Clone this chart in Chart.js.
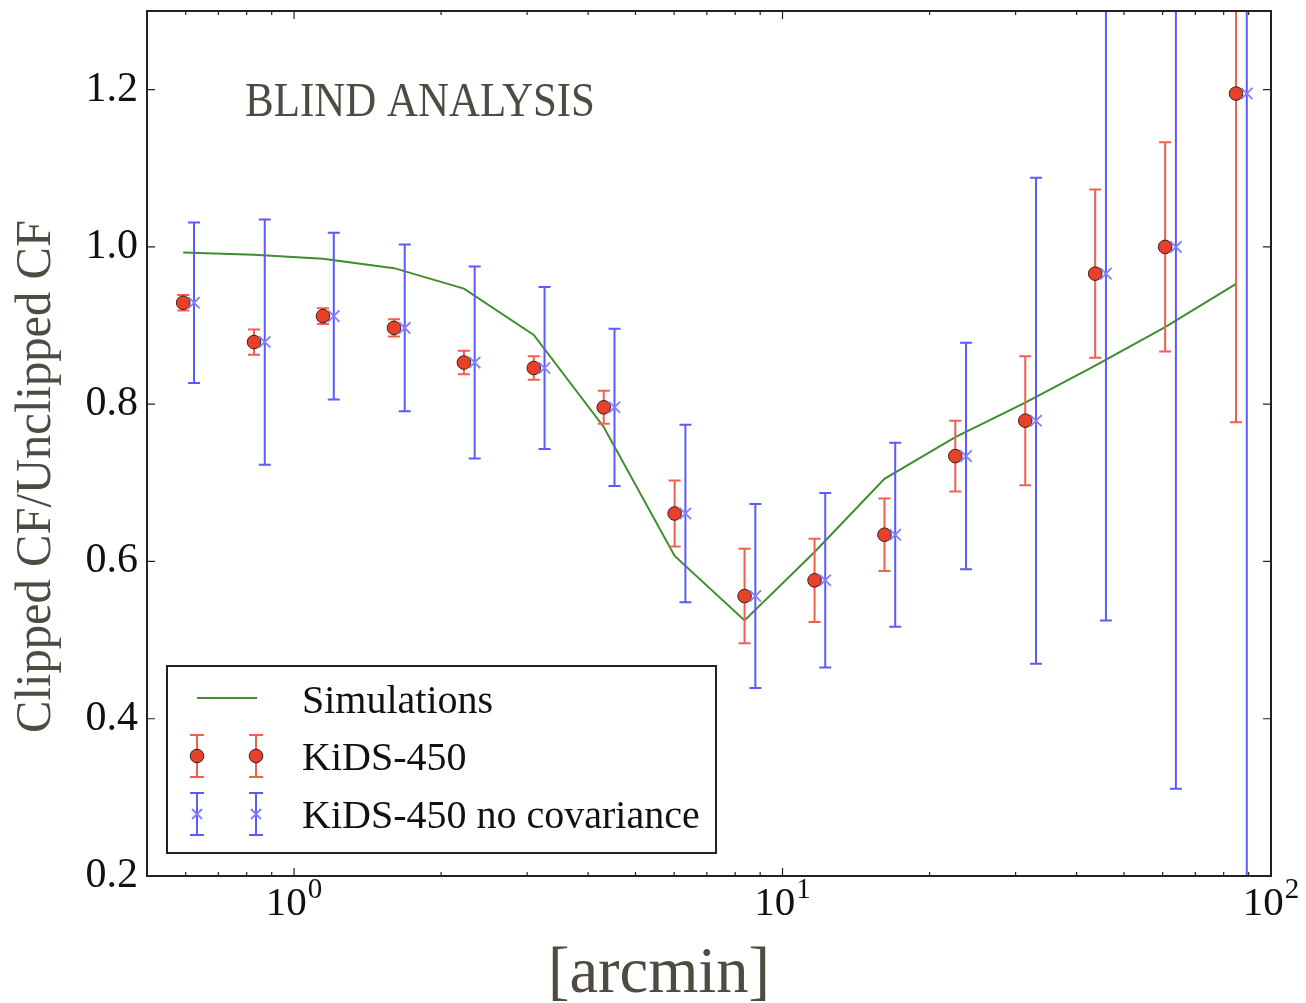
<!DOCTYPE html>
<html>
<head>
<meta charset="utf-8">
<script src="https://cdn.jsdelivr.net/npm/chart.js@4.4.0/dist/chart.umd.min.js"></script>
<style>
  html, body { margin: 0; padding: 0; background: #ffffff; }
  #wrap { width: 1306px; height: 1003px; }
</style>
</head>
<body>
<div id="wrap"><canvas id="chart" width="1306" height="1003"></canvas></div>
<script>
// Angular scale of each bin, in arcmin
const kidsTheta  = [0.593, 0.828, 1.146, 1.602, 2.227, 3.096, 4.305, 6.014, 8.362, 11.63, 16.17, 22.58, 31.40, 43.66, 60.71, 84.80];
const noCovTheta = [0.624, 0.871, 1.206, 1.685, 2.343, 3.257, 4.529, 6.327, 8.797, 12.23, 17.01, 23.75, 33.03, 45.93, 63.87, 89.21];
const simTheta   = [0.593, 0.828, 1.146, 1.602, 2.227, 3.096, 4.305, 6.014, 8.362, 11.63, 16.17, 22.58, 31.40, 43.66, 60.71, 84.80];

// Clipped / unclipped correlation function ratio
const simRatio   = [0.993, 0.990, 0.985, 0.973, 0.947, 0.888, 0.771, 0.607, 0.525, 0.612, 0.705, 0.758, 0.802, 0.849, 0.898, 0.953];
const kidsRatio  = [0.929, 0.879, 0.912, 0.897, 0.853, 0.846, 0.796, 0.661, 0.556, 0.576, 0.634, 0.734, 0.779, 0.966, 1.000, 1.195];
const kidsErr    = [0.010, 0.016, 0.010, 0.011, 0.015, 0.015, 0.021, 0.042, 0.060, 0.053, 0.046, 0.045, 0.082, 0.107, 0.133, 0.418];
const noCovRatio = [0.929, 0.879, 0.912, 0.897, 0.853, 0.846, 0.796, 0.661, 0.556, 0.576, 0.634, 0.734, 0.779, 0.966, 1.000, 1.195];
const noCovErr   = [0.102, 0.156, 0.106, 0.106, 0.122, 0.103, 0.100, 0.113, 0.117, 0.111, 0.117, 0.144, 0.309, 0.441, 0.689, 1.050];

// Axis ticks
const xTickValues    = [1, 10, 100];
const xTickBases     = ['10', '10', '10'];
const xTickExponents = ['0', '1', '2'];
const yTickValues    = [0.2, 0.4, 0.6, 0.8, 1.0, 1.2];

// Text
const seriesNames = ['Simulations', 'KiDS-450', 'KiDS-450 no covariance'];
const panelNote = 'BLIND ANALYSIS';
const xTitle = '[arcmin]';
const yTitle = 'Clipped CF/Unclipped CF';

const SERIF = '"Liberation Serif", "DejaVu Serif", serif';
const TITLE_COLOR = '#4f4a42';
const GREEN = '#3f8d2f';
const RED_FILL = '#e8412b';
const RED_EDGE = '#3c1c14';
const RED_BAR = '#f0604e';
const BLUE_BAR = '#5a5aff';
const BLUE_MARK = '#7f7fff';

function drawCross(ctx, x, y, r, color) {
  ctx.save();
  ctx.strokeStyle = color;
  ctx.lineWidth = 1.8;
  ctx.beginPath();
  ctx.moveTo(x - r, y - r); ctx.lineTo(x + r, y + r);
  ctx.moveTo(x - r, y + r); ctx.lineTo(x + r, y - r);
  ctx.stroke();
  ctx.restore();
}

function drawBar(ctx, x, yLo, yHi, color, cap) {
  ctx.strokeStyle = color;
  ctx.lineWidth = 2;
  ctx.beginPath();
  ctx.moveTo(x, yLo); ctx.lineTo(x, yHi);
  ctx.moveTo(x - cap, yLo); ctx.lineTo(x + cap, yLo);
  ctx.moveTo(x - cap, yHi); ctx.lineTo(x + cap, yHi);
  ctx.stroke();
}

// Error bars, drawn just after the simulation curve so markers sit on top
const errorBarPlugin = {
  id: 'errorBars',
  afterDatasetDraw(chart, args) {
    if (chart.data.datasets[args.index].label !== seriesNames[0]) return;
    const { ctx, chartArea: a, scales: { x, y } } = chart;
    ctx.save();
    ctx.beginPath();
    ctx.rect(a.left, a.top, a.right - a.left, a.bottom - a.top);
    ctx.clip();
    kidsTheta.forEach((t, i) => {
      drawBar(ctx, x.getPixelForValue(t),
        y.getPixelForValue(kidsRatio[i] - kidsErr[i]),
        y.getPixelForValue(kidsRatio[i] + kidsErr[i]), RED_BAR, 6);
    });
    noCovTheta.forEach((t, i) => {
      drawBar(ctx, x.getPixelForValue(t),
        y.getPixelForValue(noCovRatio[i] - noCovErr[i]),
        y.getPixelForValue(noCovRatio[i] + noCovErr[i]), BLUE_BAR, 6);
    });
    ctx.restore();
  }
};

// Frame, inward ticks, x tick labels, titles, note and legend
const decorPlugin = {
  id: 'decor',
  afterDraw(chart) {
    const { ctx, chartArea: a, scales: { x, y } } = chart;
    ctx.save();

    // inward tick marks on all four sides
    ctx.strokeStyle = '#222222';
    ctx.lineWidth = 1.2;
    ctx.beginPath();
    for (let d = -1; d <= 2; d++) {
      for (let m = 1; m <= 9; m++) {
        const v = m * Math.pow(10, d);
        if (v < x.min || v > x.max) continue;
        const px = x.getPixelForValue(v);
        const len = m === 1 ? 8 : 4;
        ctx.moveTo(px, a.bottom); ctx.lineTo(px, a.bottom - len);
        ctx.moveTo(px, a.top); ctx.lineTo(px, a.top + len);
      }
    }
    yTickValues.forEach(v => {
      const py = y.getPixelForValue(v);
      ctx.moveTo(a.left, py); ctx.lineTo(a.left + 8, py);
      ctx.moveTo(a.right, py); ctx.lineTo(a.right - 8, py);
    });
    ctx.stroke();

    // frame
    ctx.lineWidth = 2;
    ctx.strokeStyle = '#222222';
    ctx.strokeRect(a.left, a.top, a.right - a.left, a.bottom - a.top);

    // x tick labels as powers of ten
    ctx.fillStyle = '#111111';
    ctx.textBaseline = 'alphabetic';
    ctx.textAlign = 'left';
    xTickValues.forEach((v, i) => {
      const px = x.getPixelForValue(v);
      ctx.font = '41px ' + SERIF;
      const wb = ctx.measureText(xTickBases[i]).width;
      ctx.font = '29px ' + SERIF;
      const we = ctx.measureText(xTickExponents[i]).width;
      const start = px - (wb + we + 1) / 2;
      ctx.font = '41px ' + SERIF;
      ctx.fillText(xTickBases[i], start, 915);
      ctx.font = '29px ' + SERIF;
      ctx.fillText(xTickExponents[i], start + wb + 1, 898);
    });

    // panel note
    ctx.fillStyle = TITLE_COLOR;
    ctx.font = '49px ' + SERIF;
    let w = ctx.measureText(panelNote).width;
    ctx.save();
    ctx.translate(245, 116);
    ctx.scale(350 / w, 1);
    ctx.fillText(panelNote, 0, 0);
    ctx.restore();

    // x title
    ctx.font = '66px ' + SERIF;
    w = ctx.measureText(xTitle).width;
    ctx.save();
    ctx.translate(548, 992);
    ctx.scale(222 / w, 1);
    ctx.fillText(xTitle, 0, 0);
    ctx.restore();

    // y title
    ctx.font = '50px ' + SERIF;
    w = ctx.measureText(yTitle).width;
    ctx.save();
    ctx.translate(50, 733);
    ctx.rotate(-Math.PI / 2);
    ctx.scale(513 / w, 1);
    ctx.fillText(yTitle, 0, 0);
    ctx.restore();

    // legend
    const lx = 167, ly = 666, lw = 549, lh = 187;
    ctx.fillStyle = '#ffffff';
    ctx.fillRect(lx, ly, lw, lh);
    ctx.lineWidth = 2;
    ctx.strokeStyle = '#222222';
    ctx.strokeRect(lx, ly, lw, lh);

    ctx.strokeStyle = GREEN;
    ctx.lineWidth = 2;
    ctx.beginPath();
    ctx.moveTo(197, 698); ctx.lineTo(257, 698);
    ctx.stroke();

    [197, 256].forEach(px => {
      drawBar(ctx, px, 735, 777, RED_BAR, 7);
      ctx.beginPath();
      ctx.arc(px, 756, 6.8, 0, Math.PI * 2);
      ctx.fillStyle = RED_FILL;
      ctx.fill();
      ctx.lineWidth = 1;
      ctx.strokeStyle = RED_EDGE;
      ctx.stroke();
      drawBar(ctx, px, 793, 835, BLUE_BAR, 7);
      drawCross(ctx, px, 814, 5, BLUE_MARK);
    });

    ctx.fillStyle = '#111111';
    ctx.font = '40px ' + SERIF;
    ctx.fillText(seriesNames[0], 302, 713);
    ctx.fillText(seriesNames[1], 302, 770);
    ctx.fillText(seriesNames[2], 302, 828);

    ctx.restore();
  }
};

const toPoints = (xs, ys) => xs.map((v, i) => ({ x: v, y: ys[i] }));

new Chart(document.getElementById('chart'), {
  type: 'scatter',
  data: {
    datasets: [
      {
        label: seriesNames[2],
        data: toPoints(noCovTheta, noCovRatio),
        pointStyle: 'crossRot',
        pointRadius: 8,
        borderColor: BLUE_MARK,
        backgroundColor: BLUE_MARK,
        borderWidth: 1.8,
        order: 1
      },
      {
        label: seriesNames[1],
        data: toPoints(kidsTheta, kidsRatio),
        pointStyle: 'circle',
        pointRadius: 6.8,
        backgroundColor: RED_FILL,
        borderColor: RED_EDGE,
        borderWidth: 1,
        order: 2
      },
      {
        label: seriesNames[0],
        data: toPoints(simTheta, simRatio),
        showLine: true,
        pointRadius: 0,
        borderColor: GREEN,
        borderWidth: 2,
        tension: 0,
        fill: false,
        order: 3
      }
    ]
  },
  options: {
    responsive: false,
    animation: false,
    devicePixelRatio: 1,
    layout: { padding: { left: 0, right: 35, top: 11, bottom: 0 } },
    plugins: { legend: { display: false }, tooltip: { enabled: false } },
    scales: {
      x: {
        type: 'logarithmic',
        min: 0.5,
        max: 100,
        grid: { display: false, drawTicks: false },
        border: { display: false },
        afterBuildTicks: s => { s.ticks = xTickValues.map(v => ({ value: v })); },
        afterFit: s => { s.height = 127; s.paddingLeft = 0; s.paddingRight = 0; },
        ticks: { display: false }
      },
      y: {
        min: 0.2,
        max: 1.3,
        grid: { display: false, drawTicks: false },
        border: { display: false },
        afterBuildTicks: s => { s.ticks = yTickValues.map(v => ({ value: v })); },
        afterFit: s => { s.width = 147; s.paddingTop = 0; s.paddingBottom = 0; },
        ticks: {
          padding: 9,
          color: '#111111',
          font: { family: SERIF, size: 42 },
          callback: v => Number(v).toFixed(1)
        }
      }
    }
  },
  plugins: [errorBarPlugin, decorPlugin]
});
</script>
</body>
</html>
